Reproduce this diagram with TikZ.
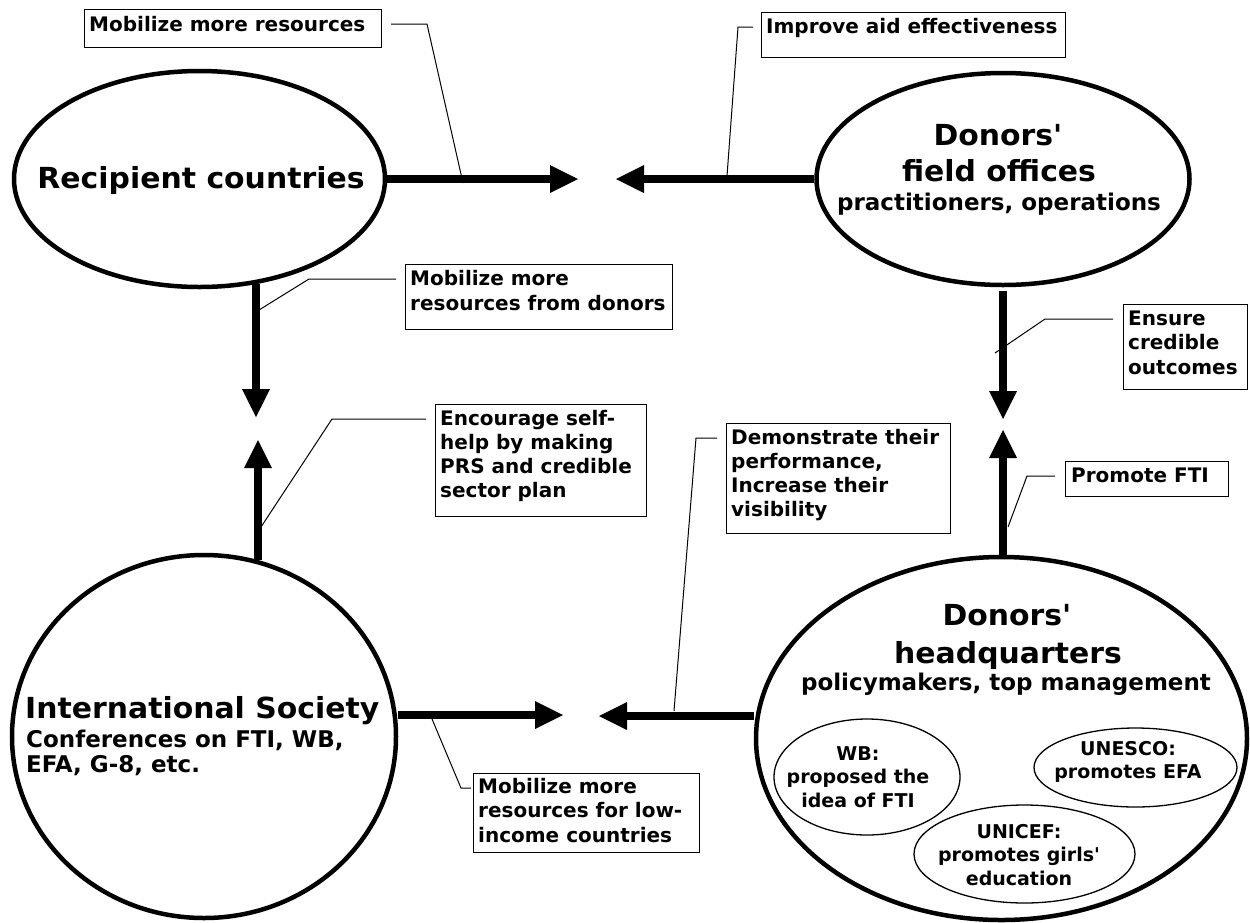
\documentclass[tikz,border=0pt]{standalone}
\usepackage{fontspec}
\setmainfont{DejaVu Sans}[Ligatures=TeXOff]
\newfontfamily\widefont{DejaVu Sans}[FakeStretch=1.03,Ligatures=TeXOff]
\usetikzlibrary{arrows.meta,shapes.geometric,calc}

% stacked lines, first baseline = node baseline
\newcommand\leftlines[2]{\vtop{\baselineskip=#1\lineskiplimit=-1000pt\halign{##\hfil\cr#2\crcr}}}
\newcommand\midlines[2]{\vtop{\baselineskip=#1\lineskiplimit=-1000pt\halign{\hfil##\hfil\cr#2\crcr}}}

\begin{document}
\begin{tikzpicture}[x=1pt,y=-1pt,
  big/.style={ellipse, draw, line width=4.5pt, inner sep=0pt},
  sub/.style={ellipse, draw, line width=1.3pt, inner sep=0pt},
  box/.style={rectangle, draw, line width=1.2pt, inner sep=0pt, anchor=north west},
  boxtext/.style={anchor=base west, inner sep=0pt, font=\bfseries\fontsize{20}{24}\selectfont},
  title/.style={anchor=base, inner sep=0pt, font=\widefont\bfseries\fontsize{29}{34}\selectfont},
  subtitle/.style={anchor=base, inner sep=0pt, font=\bfseries\fontsize{23}{27}\selectfont},
  smalltext/.style={anchor=base, inner sep=0pt, font=\bfseries\fontsize{19}{23}\selectfont},
  flow/.style={line width=7.5pt, -{Triangle[length=28pt,width=28pt,line width=0pt]}},
  leader/.style={line width=1pt}]
\useasboundingbox (0,0) rectangle (1250,922);

% ---- main actors ----
\node[big, minimum width=371, minimum height=216] (R) at (199.5,179) {};
\node[big, minimum width=373, minimum height=212] (F) at (1003,179) {};
\node[big, minimum width=384, minimum height=363] (I) at (204,736.5) {};
\node[big, minimum width=491, minimum height=363] (H) at (1001.5,738.5) {};

\node[title] (Rt) at (201,188) {Recipient countries};

\node[title] (Ft1) at (998,145) {Donors'};
\node[title] (Ft2) at (999,181) {field offices};
\node[subtitle] (Ft3) at (999,210) {practitioners, operations};

\node[title, anchor=base west] (It1) at (25,718) {International Society};
\node[subtitle, anchor=base west] (It2) at (26,747) {Conferences on FTI, WB,};
\node[subtitle, anchor=base west] (It3) at (26,772) {EFA, G-8, etc.};

\node[title] (Ht1) at (1007,625) {Donors'};
\node[title] (Ht2) at (1008,663) {headquarters};
\node[subtitle] (Ht3) at (1006,690) {policymakers, top management};

% ---- agencies inside the headquarters ----
\node[sub, minimum width=186, minimum height=116] (WB) at (867,777) {};
\node[sub, minimum width=203, minimum height=79] (UN) at (1135.5,767.5) {};
\node[sub, minimum width=221, minimum height=98] (UC) at (1024.5,854) {};
\node[smalltext] (WBt) at (858,760) {\midlines{23.5pt}{WB:\cr proposed the\cr idea of FTI}};
\node[smalltext] (UNt) at (1128,755) {\midlines{23.5pt}{UNESCO:\cr promotes EFA}};
\node[smalltext] (UCt) at (1019,838.5) {\midlines{23.3pt}{UNICEF:\cr promotes girls'\cr education}};

% ---- motive boxes ----
\node[box, minimum width=297, minimum height=38] (B1) at (84,9) {};
\node[boxtext] (B1t) at (89,31) {Mobilize more resources};
\node[box, minimum width=304, minimum height=45] (B2) at (761,12) {};
\node[boxtext] (B2t) at (766,33.5) {Improve aid effectiveness};
\node[box, minimum width=267, minimum height=65] (B3) at (405,264) {};
\node[boxtext] (B3t) at (410,285) {\leftlines{25pt}{Mobilize more\cr resources from donors}};
\node[box, minimum width=211, minimum height=112] (B4) at (435,404) {};
\node[boxtext] (B4t) at (440,425) {\leftlines{24.3pt}{Encourage self-\cr help by making\cr PRS and credible\cr sector plan}};
\node[box, minimum width=124, minimum height=85] (B5) at (1123,304) {};
\node[boxtext] (B5t) at (1128,325) {\leftlines{24.5pt}{Ensure\cr credible\cr outcomes}};
\node[box, minimum width=163, minimum height=35] (B6) at (1065,461) {};
\node[boxtext] (B6t) at (1071,482) {Promote FTI};
\node[box, minimum width=224, minimum height=110] (B7) at (726,423) {};
\node[boxtext] (B7t) at (731,444) {\leftlines{24pt}{Demonstrate their\cr performance,\cr Increase their\cr visibility}};
\node[box, minimum width=226, minimum height=79] (B8) at (473,773) {};
\node[boxtext] (B8t) at (478,793) {\leftlines{24.8pt}{Mobilize more\cr resources for low-\cr income countries}};

% ---- arrow tips (meeting points) ----
\coordinate (tA1) at (578,179);
\coordinate (tA2) at (616,179);
\coordinate (tA3) at (256,417);
\coordinate (tA4) at (258,440);
\coordinate (tA5) at (1003,419);
\coordinate (tA6) at (1003,430);
\coordinate (tA7) at (563,715);
\coordinate (tA8) at (599,716);

\draw[flow] (R.east) -- (tA1);
\draw[flow] (F.west) -- (tA2);
\draw[flow] (tA3 |- R.-61) -- (tA3);
\draw[flow] (tA4 |- I.73) -- (tA4);
\draw[flow] ($(tA5 |- F.south)+(0,4)$) -- (tA5);
\draw[flow] (tA6 |- H.north) -- (tA6);
\draw[flow] (tA7 -| I.east) -- (tA7);
\draw[flow] (tA8 -| H.west) -- (tA8);

% ---- leader lines from boxes to arrows ----
\coordinate (l1a) at (391,24);   \coordinate (l1b) at (427,24);   \coordinate (l1c) at (463,183);
\coordinate (l2a) at (753,27);   \coordinate (l2b) at (738,27);   \coordinate (l2c) at (727,176);
\coordinate (l3a) at (396,279);  \coordinate (l3b) at (309,279);  \coordinate (l3c) at (259,310);
\coordinate (l4a) at (426,419);  \coordinate (l4b) at (332,419);  \coordinate (l4c) at (261,527);
\coordinate (l5a) at (1113,319); \coordinate (l5b) at (1045,319); \coordinate (l5c) at (995,353);
\coordinate (l6a) at (1055,476); \coordinate (l6b) at (1027,476); \coordinate (l6c) at (1008,527);
\coordinate (l7a) at (717,438);  \coordinate (l7b) at (696,438);  \coordinate (l7c) at (674,711);
\coordinate (l8a) at (471,788);  \coordinate (l8b) at (461,788);  \coordinate (l8c) at (432,719);
\foreach \k in {1,...,8}
  \draw[leader] (l\k a) -- (l\k b) -- (l\k c);
\end{tikzpicture}
\end{document}
